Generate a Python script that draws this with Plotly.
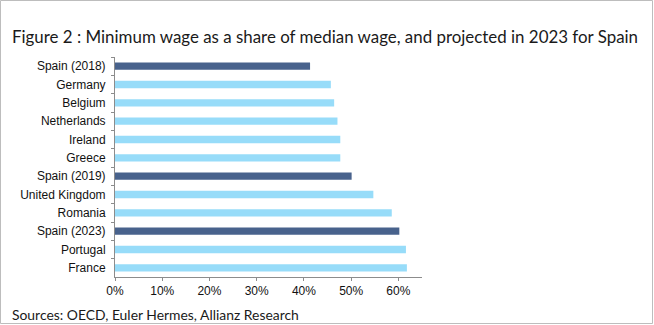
import plotly.graph_objects as go

categories = ["Spain (2018)", "Germany", "Belgium", "Netherlands", "Ireland", "Greece",
              "Spain (2019)", "United Kingdom", "Romania", "Spain (2023)", "Portugal", "France"]
values = [0.413, 0.457, 0.464, 0.471, 0.477, 0.477, 0.501, 0.547, 0.586, 0.602, 0.616, 0.618]
is_spain = [c.startswith("Spain") for c in categories]

DARK = "#48628C"
LIGHT = "#97DCF9"
colors = [DARK if s else LIGHT for s in is_spain]

W, H = 654, 325
L, R, T, B = 115, 232, 57, 48
pw, ph = W - L - R, H - T - B

fig = go.Figure(go.Bar(
    y=categories, x=values, orientation="h",
    marker=dict(color=colors, line=dict(width=0)),
    width=0.40,
))

tickfont = dict(family="Liberation Sans, Arial", size=12, color="#111")

fig.update_layout(
    width=W, height=H,
    margin=dict(l=L, r=R, t=T, b=B),
    paper_bgcolor="white", plot_bgcolor="white",
    showlegend=False,
    xaxis=dict(range=[0, 0.65], tickvals=[0, 0.1, 0.2, 0.3, 0.4, 0.5, 0.6],
               tickformat=".0%", showgrid=False, zeroline=False,
               showline=True, linecolor="#8C8C8C", linewidth=1,
               ticks="outside", ticklen=3, tickcolor="#8C8C8C",
               tickfont=tickfont),
    yaxis=dict(autorange="reversed", showgrid=False, zeroline=False,
               showline=True, linecolor="#8C8C8C", linewidth=1,
               ticks="outside", ticklen=3, tickcolor="#8C8C8C", tickson="boundaries",
               ticklabelstandoff=6,
               tickfont=tickfont),
    font=dict(family="Liberation Sans, Arial"),
)

def px_x(x):
    return (x - L) / pw

def px_y(y):
    return 1 - (y - T) / ph

# outer border
fig.add_shape(type="rect", xref="paper", yref="paper",
              x0=px_x(0.5), x1=px_x(652.5), y0=px_y(323.5), y1=px_y(0.5),
              line=dict(color="#BDBDBD", width=1), fillcolor="rgba(0,0,0,0)", layer="below")

fig.add_annotation(text="Figure 2 : Minimum wage as a share of median wage, and projected in 2023 for Spain",
                   xref="paper", yref="paper", x=px_x(10), y=px_y(36),
                   xanchor="left", yanchor="middle", showarrow=False,
                   font=dict(family="Lato", size=16.9, color="#1a1a1a"))
fig.add_annotation(text="Sources: OECD, Euler Hermes, Allianz Research",
                   xref="paper", yref="paper", x=px_x(10), y=px_y(314),
                   xanchor="left", yanchor="middle", showarrow=False,
                   font=dict(family="Lato", size=13.9, color="#1a1a1a"))

fig.write_html("out.html")
